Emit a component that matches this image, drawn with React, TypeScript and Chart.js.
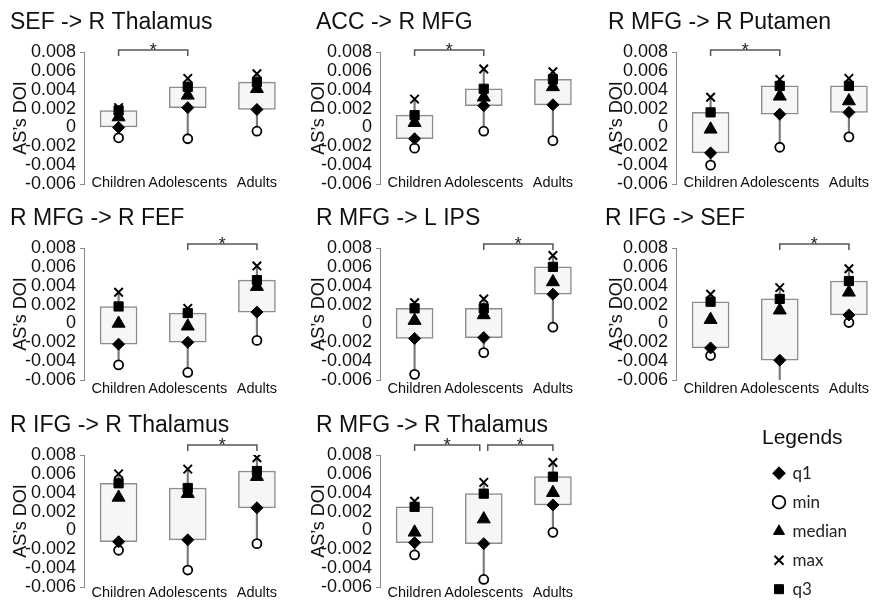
import React, { useEffect, useRef } from 'react';
import { Chart, registerables } from 'chart.js';

Chart.register(...registerables);

// ---------------- data ----------------
const categories = ['Children', 'Adolescents', 'Adults'];

const panelTitles = [
  'SEF -> R Thalamus',
  'ACC -> R MFG',
  'R MFG -> R Putamen',
  'R MFG -> R FEF',
  'R MFG -> L IPS',
  'R IFG -> SEF',
  'R IFG -> R Thalamus',
  'R MFG -> R Thalamus',
];

const minValues = [
  [-0.0011, -0.0012, -0.0004],
  [-0.0022, -0.0004, -0.0014],
  [-0.0040, -0.0021, -0.0010],
  [-0.0044, -0.0052, -0.0018],
  [-0.0054, -0.0031, -0.0004],
  [-0.0034, -0.0070, 0.0001],
  [-0.0021, -0.0042, -0.0014],
  [-0.0026, -0.0052, -0.0002],
];

const q1Values = [
  [0.0000, 0.0021, 0.0019],
  [-0.0012, 0.0023, 0.0024],
  [-0.0027, 0.0014, 0.0016],
  [-0.0022, -0.0020, 0.0012],
  [-0.0016, -0.0015, 0.0031],
  [-0.0026, -0.0039, 0.0009],
  [-0.0012, -0.0010, 0.0024],
  [-0.0013, -0.0014, 0.0027],
];

const medianValues = [
  [0.0011, 0.0034, 0.0041],
  [0.0005, 0.0032, 0.0043],
  [-0.0002, 0.0033, 0.0028],
  [0.0000, -0.0003, 0.0039],
  [0.0003, 0.0009, 0.0044],
  [0.0004, 0.0014, 0.0033],
  [0.0035, 0.0039, 0.0057],
  [-0.0002, 0.0012, 0.0040],
];

const q3Values = [
  [0.0018, 0.0043, 0.0048],
  [0.0013, 0.0041, 0.0051],
  [0.0016, 0.0044, 0.0044],
  [0.0018, 0.0011, 0.0046],
  [0.0016, 0.0016, 0.0060],
  [0.0023, 0.0026, 0.0045],
  [0.0050, 0.0045, 0.0063],
  [0.0025, 0.0039, 0.0057],
];

const maxValues = [
  [0.0021, 0.0052, 0.0057],
  [0.0030, 0.0062, 0.0059],
  [0.0032, 0.0051, 0.0052],
  [0.0033, 0.0016, 0.0061],
  [0.0022, 0.0026, 0.0072],
  [0.0031, 0.0038, 0.0058],
  [0.0060, 0.0065, 0.0077],
  [0.0031, 0.0051, 0.0072],
];

const significantPairs = [
  [[0, 1]],
  [[0, 1]],
  [[0, 1]],
  [[1, 2]],
  [[1, 2]],
  [[1, 2]],
  [[1, 2]],
  [[0, 1], [1, 2]],
];

const yTickValues = [-0.006, -0.004, -0.002, 0, 0.002, 0.004, 0.006, 0.008];
const yTickLabels = ['-0.006', '-0.004', '-0.002', '0', '0.002', '0.004', '0.006', '0.008'];
const yAxisTitle = 'AS\u2019s DOI';
const legendTitle = 'Legends';
const legendOrder = ['q1', 'min', 'median', 'max', 'q3'];

// ---------------- styles / layout ----------------
const FONT = "'Liberation Sans', Arial, Helvetica, sans-serif";
const CANVAS_W = 300;
const CANVAS_H = 200;
const colLeft = [0, 296, 592];
const rowTop = [0, 196, 403];
const titleLeft = [10, 20, 16, 10, 20, 13, 10, 20];
const yTitleCenter = [21, 23, 25];
const xLabelPad = [-7.7, -17.7, -14.7];
const bracketRise = [2, 4, 10];
const AXIS_X = 84;
const PLOT_BOTTOM = 184;

const markerDefs: any = {
  min: { values: minValues, pointStyle: 'circle', radius: 4.5, fill: '#ffffff', stroke: '#000000', width: 1.8, order: 6, clip: 0 },
  q1: { values: q1Values, pointStyle: 'rectRot', radius: 6, fill: '#000000', stroke: '#000000', width: 1, order: 5 },
  q3: { values: q3Values, pointStyle: 'rect', radius: 6.5, fill: '#000000', stroke: '#000000', width: 1, order: 4 },
  median: { values: medianValues, pointStyle: 'triangle', radius: 7.5, fill: '#000000', stroke: '#000000', width: 1, order: 3 },
  max: { values: maxValues, pointStyle: 'crossRot', radius: 6, fill: '#000000', stroke: '#000000', width: 2, order: 2 },
};

const bracketPlugin = {
  id: 'sigBrackets',
  afterDatasetsDraw(chart: any, _args: any, opts: any) {
    const pairs = opts.pairs || [];
    const xs = chart.scales.x;
    const top = chart.chartArea.top;
    const y = top - (opts.rise || 0);
    const ctx = chart.ctx;
    ctx.save();
    ctx.strokeStyle = '#555555';
    ctx.lineWidth = 1.5;
    ctx.fillStyle = '#222222';
    ctx.font = `18px ${FONT}`;
    ctx.textAlign = 'center';
    ctx.textBaseline = 'alphabetic';
    const shared = pairs.length > 1;
    pairs.forEach((pr: number[]) => {
      const [a, b] = pr;
      const x1 = xs.getPixelForValue(a) + (shared && a === 1 ? 4 : 0);
      const x2 = xs.getPixelForValue(b) - (shared && b === 1 ? 4 : 0);
      ctx.beginPath();
      ctx.moveTo(x1, y + 6);
      ctx.lineTo(x1, y);
      ctx.lineTo(x2, y);
      ctx.lineTo(x2, y + 6);
      ctx.stroke();
      ctx.fillText('*', (x1 + x2) / 2, y + 6);
    });
    ctx.restore();
  },
};

function buildPanelConfig(p: number): any {
  const row = Math.floor(p / 3);
  const col = p % 3;
  const padLeft = titleLeft[p];
  const datasets: any[] = [
    {
      type: 'bar',
      label: 'whisker',
      data: minValues[p].map((m, i) => [m, maxValues[p][i]]),
      backgroundColor: '#7a7a7a',
      borderWidth: 0,
      barThickness: 1.5,
      grouped: false,
      order: 10,
      clip: 0,
    },
    {
      type: 'bar',
      label: 'box',
      data: q1Values[p].map((q, i) => [q, q3Values[p][i]]),
      backgroundColor: '#f6f6f6',
      borderColor: '#8c8c8c',
      borderWidth: 1.5,
      borderSkipped: false,
      barThickness: 37,
      grouped: false,
      order: 9,
    },
  ];
  Object.keys(markerDefs).forEach((k) => {
    const d = markerDefs[k];
    const ds: any = {
      type: 'line',
      label: k,
      data: d.values[p],
      showLine: false,
      pointStyle: d.pointStyle,
      pointRadius: d.radius,
      pointHoverRadius: d.radius,
      pointBackgroundColor: d.fill,
      pointBorderColor: d.stroke,
      pointBorderWidth: d.width,
      order: d.order,
    };
    if (d.clip !== undefined) ds.clip = d.clip;
    datasets.push(ds);
  });

  return {
    type: 'bar',
    data: { labels: categories, datasets },
    plugins: [bracketPlugin],
    options: {
      responsive: false,
      animation: false,
      devicePixelRatio: 1,
      events: [],
      layout: { padding: { left: padLeft, right: 1.5, top: 0, bottom: 0 } },
      plugins: {
        legend: { display: false },
        tooltip: { enabled: false },
        title: {
          display: true,
          text: panelTitles[p],
          align: 'start',
          color: '#111111',
          font: { family: FONT, size: 23, weight: 'normal' },
          padding: { top: 9, bottom: 15.4 },
        },
        sigBrackets: { pairs: significantPairs[p], rise: bracketRise[row] },
      },
      scales: {
        x: {
          type: 'category',
          grid: { display: false, drawTicks: false },
          border: { display: false },
          ticks: {
            autoSkip: false,
            maxRotation: 0,
            minRotation: 0,
            mirror: true,
            padding: xLabelPad[row],
            color: '#111111',
            font: { family: FONT, size: 14.5 },
          },
          afterFit: (scale: any) => {
            scale.height = CANVAS_H - PLOT_BOTTOM;
          },
        },
        y: {
          type: 'linear',
          min: -0.006,
          max: 0.008,
          afterBuildTicks: (scale: any) => {
            scale.ticks = yTickValues.map((v) => ({ value: v }));
          },
          ticks: {
            autoSkip: false,
            color: '#111111',
            padding: 4,
            font: { family: FONT, size: 18 },
            callback: (_v: any, i: number) => yTickLabels[i],
          },
          grid: {
            display: true,
            drawOnChartArea: false,
            drawTicks: true,
            tickLength: 4,
            color: (ctx: any) =>
              ctx.index === 0 || ctx.index === yTickValues.length - 1 ? '#888888' : 'rgba(0,0,0,0)',
          },
          border: { display: true, color: '#888888', width: 1 },
          title: {
            display: true,
            text: yAxisTitle,
            color: '#111111',
            font: { family: FONT, size: 18 },
            padding: { top: yTitleCenter[col] - 10.8 - padLeft, bottom: 0 },
          },
          afterFit: (scale: any) => {
            scale.width = AXIS_X - padLeft;
          },
        },
      },
    },
  };
}

function Panel({ index }: { index: number }) {
  const ref = useRef<HTMLCanvasElement | null>(null);
  useEffect(() => {
    if (!ref.current) return;
    const chart = new Chart(ref.current, buildPanelConfig(index));
    return () => chart.destroy();
  }, [index]);
  const row = Math.floor(index / 3);
  const col = index % 3;
  return (
    <canvas
      ref={ref}
      width={CANVAS_W}
      height={CANVAS_H}
      style={{ position: 'absolute', left: colLeft[col], top: rowTop[row], width: CANVAS_W, height: CANVAS_H }}
    />
  );
}

function LegendChart() {
  const ref = useRef<HTMLCanvasElement | null>(null);
  useEffect(() => {
    if (!ref.current) return;
    const datasets = legendOrder.map((k) => {
      const d = markerDefs[k];
      return {
        type: 'line',
        label: k,
        data: [null],
        showLine: false,
        pointStyle: d.pointStyle,
        pointRadius: d.radius,
        pointBackgroundColor: d.fill,
        pointBorderColor: d.stroke,
        pointBorderWidth: d.width,
        backgroundColor: d.fill,
        borderColor: d.stroke,
        borderWidth: d.width,
      };
    });
    const chart = new Chart(ref.current, {
      type: 'line',
      data: { labels: [''], datasets } as any,
      options: {
        responsive: false,
        animation: false,
        devicePixelRatio: 1,
        events: [],
        layout: { padding: { left: 22, top: 0 } },
        scales: { x: { display: false }, y: { display: false } },
        plugins: {
          tooltip: { enabled: false },
          legend: {
            display: true,
            position: 'left',
            align: 'start',
            maxWidth: 200,
            title: {
              display: true,
              text: legendTitle,
              position: 'start',
              color: '#111111',
              font: { family: FONT, size: 21 },
              padding: { top: 22.5, bottom: 0 },
            },
            labels: {
              usePointStyle: true,
              boxWidth: 10,
              boxHeight: 9,
              padding: 12,
              color: '#222222',
              font: { family: 'Lato, sans-serif', size: 17 },
            },
          },
        },
      } as any,
    });
    return () => chart.destroy();
  }, []);
  return (
    <canvas
      ref={ref}
      width={146}
      height={220}
      style={{ position: 'absolute', left: 740, top: 405, width: 146, height: 220 }}
    />
  );
}

export default function App() {
  return (
    <div
      style={{
        position: 'absolute',
        left: 0,
        top: 0,
        width: 886,
        height: 607,
        overflow: 'hidden',
        background: '#ffffff',
      }}
    >
      {panelTitles.map((_, i) => (
        <Panel key={i} index={i} />
      ))}
      <LegendChart />
    </div>
  );
}
